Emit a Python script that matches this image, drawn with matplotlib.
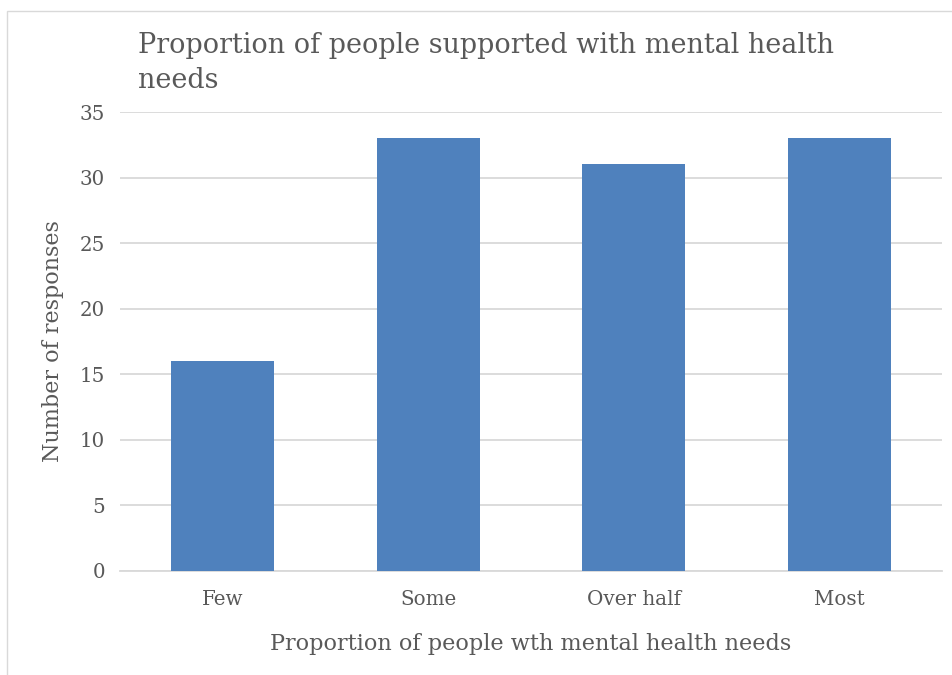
import matplotlib
matplotlib.use("Agg")
import matplotlib.pyplot as plt
from matplotlib.patches import Rectangle

categories = ["Few", "Some", "Over half", "Most"]
values = [16, 33, 31, 33]
yticks = [0, 5, 10, 15, 20, 25, 30, 35]

title_lines = ["Proportion of people supported with mental health", "needs"]
xlabel = "Proportion of people wth mental health needs"
ylabel = "Number of responses"

serif = ["DejaVu Serif"]
txt = "#595959"
W, H = 952, 675

fig = plt.figure(figsize=(W / 100, H / 100), dpi=100)
fig.patches.append(Rectangle((7 / W, -0.1), 1.2, 1 - 11 / H + 0.1, transform=fig.transFigure,
                             fill=False, edgecolor="#D9D9D9", linewidth=1.0))
ax_left, ax_right, ax_top, ax_bot = 120, 942, 112, 571
ax = fig.add_axes([ax_left / W, 1 - ax_bot / H, (ax_right - ax_left) / W, (ax_bot - ax_top) / H])

x = list(range(len(categories)))
ax.bar(x, values, width=0.5, color="#4F81BD", zorder=3)
ax.set_xlim(-0.5, len(categories) - 0.5)
ax.set_ylim(0, 35)
ax.set_yticks(yticks)
ax.set_xticks(x)
ax.set_xticklabels(categories, fontfamily=serif, fontsize=14.3, color=txt)
for lab in ax.get_yticklabels():
    lab.set_fontfamily(serif)
    lab.set_fontsize(14.3)
    lab.set_color(txt)
ax.grid(axis="y", color="#D9D9D9", linewidth=1.3, zorder=0)
for s in ["top", "right", "left"]:
    ax.spines[s].set_visible(False)
ax.spines["bottom"].set_color("#D9D9D9")
ax.spines["bottom"].set_linewidth(1.3)
ax.tick_params(axis="both", length=0)
ax.tick_params(axis="y", pad=10.8)
ax.tick_params(axis="x", pad=14)

ax.set_xlabel(xlabel, fontfamily=serif, fontsize=16, color=txt)
ax.xaxis.label.set_va("baseline")
ax.xaxis.set_label_coords(0.5, ((H - 650) - (H - ax_bot)) / (ax_bot - ax_top))
ax.set_ylabel(ylabel, fontfamily=serif, fontsize=16, color=txt)
ax.yaxis.label.set_ha("center")
ax.yaxis.label.set_va("center")
ax.yaxis.set_label_coords((53 - ax_left) / (ax_right - ax_left), 0.5)

t1 = fig.text(138 / W, 1 - 53 / H, title_lines[0], fontfamily=serif, fontsize=19.5, color=txt,
              ha="left", va="baseline")
t2 = fig.text(138 / W, 1 - 88 / H, title_lines[1], fontfamily=serif, fontsize=19.5, color=txt,
              ha="left", va="baseline")

# fit text sizes to the reference widths (pixels)
fig.canvas.draw()
r = fig.canvas.get_renderer()

def fit(t, target, horizontal=True):
    bb = t.get_window_extent(r)
    cur = bb.width if horizontal else bb.height
    t.set_fontsize(t.get_fontsize() * target / cur)
    return t.get_fontsize()

s = fit(t1, 696)
t2.set_fontsize(s)
fit(ax.xaxis.label, 522)
fit(ax.yaxis.label, 242, horizontal=False)

fig.savefig("out.png", dpi=100)
